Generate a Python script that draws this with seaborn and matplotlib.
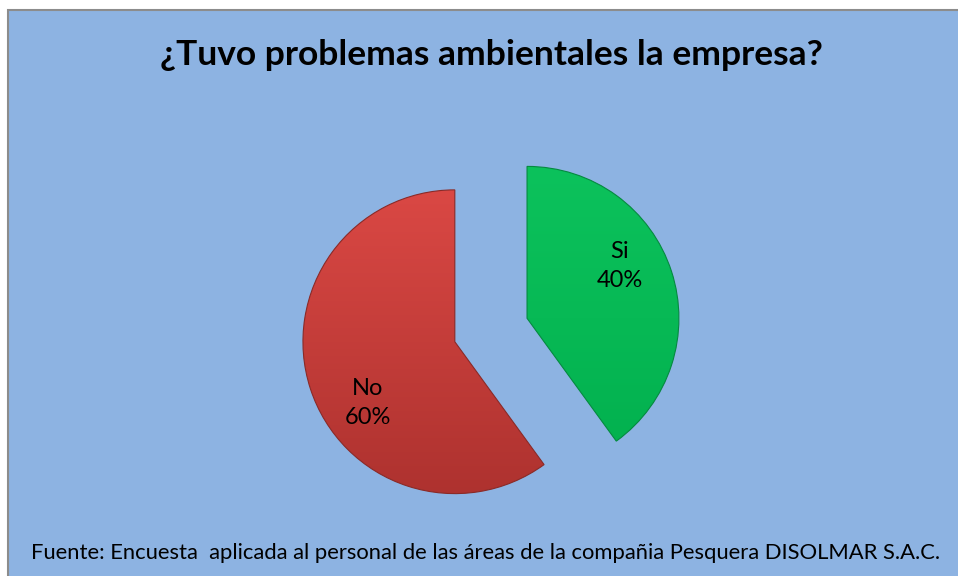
import matplotlib
matplotlib.use("Agg")
import matplotlib.pyplot as plt
import matplotlib.patches as mpatches
from matplotlib.colors import LinearSegmentedColormap
import numpy as np
import seaborn as sns

categories = ["Si", "No"]
percentages = [40, 60]
colors = ["#06BB55", "#C93F3B"]
# top / bottom shades for the slight gradient on each slice
shades = [("#0CC25C", "#02B04E"), ("#DA4844", "#AE322F")]

title = "¿Tuvo problemas ambientales la empresa?"
source = "Fuente: Encuesta  aplicada al personal de las áreas de la compañia Pesquera DISOLMAR S.A.C."

sns.set_theme(style="white")
plt.rcParams["font.family"] = ["Lato", "DejaVu Sans"]

fig = plt.figure(figsize=(9.58, 5.76), dpi=100)
fig.patch.set_facecolor("white")

# blue chart area with grey border
bg = mpatches.Rectangle(
    (8 / 958, -0.01), 1.05, 1.01 - 10 / 576,
    transform=fig.transFigure, facecolor="#8DB3E2",
    edgecolor="#8C8C8C", linewidth=1.5, zorder=-5,
)
fig.patches.append(bg)

ax = fig.add_axes([0.2588, 0.0052, 0.5073, 0.84375])
ax.set_zorder(2)
ax.patch.set_alpha(0)
wedges, _ = ax.pie(
    percentages,
    colors=colors,
    startangle=90,
    counterclock=False,
    explode=[0.25, 0.25],
    wedgeprops={"linewidth": 0.8},
)
edge_cols = ["#058A40", "#8A2a27"]
grad = np.linspace(0, 1, 256).reshape(-1, 1)
for w, (top, bot), ec, cat, pct in zip(wedges, shades, edge_cols, categories, percentages):
    w.set_edgecolor(ec)
    cmap = LinearSegmentedColormap.from_list("s", [bot, top])
    cx, cy = w.center
    im = ax.imshow(grad, cmap=cmap, origin="lower", aspect="auto",
                   extent=(cx - 1, cx + 1, cy - 1, cy + 1), zorder=w.get_zorder() + 0.1)
    im.set_clip_path(w)
    w.set_zorder(w.get_zorder() + 0.2)
    w.set_facecolor("none")
    # label inside the slice
    ang = np.deg2rad(w.theta2 - 0.42 * (w.theta2 - w.theta1))
    ax.text(cx + 0.7 * np.cos(ang), cy + 0.7 * np.sin(ang), f"{cat}\n{pct}%",
            ha="center", va="center", multialignment="center",
            fontsize=17, linespacing=1.45, color="black", zorder=5)

ax.set_xlim(-1.6, 1.6)
ax.set_ylim(-1.6, 1.6)
ax.set_aspect("equal")
ax.axis("off")

fig.text(0.5125, 0.9045, title, ha="center", va="center",
         fontsize=25.5, fontweight="bold", color="black", zorder=3)
fig.text(0.507, 0.040, source, ha="center", va="center",
         fontsize=15.8, color="black", zorder=3)

fig.savefig("out.png", dpi=100, facecolor="white")
